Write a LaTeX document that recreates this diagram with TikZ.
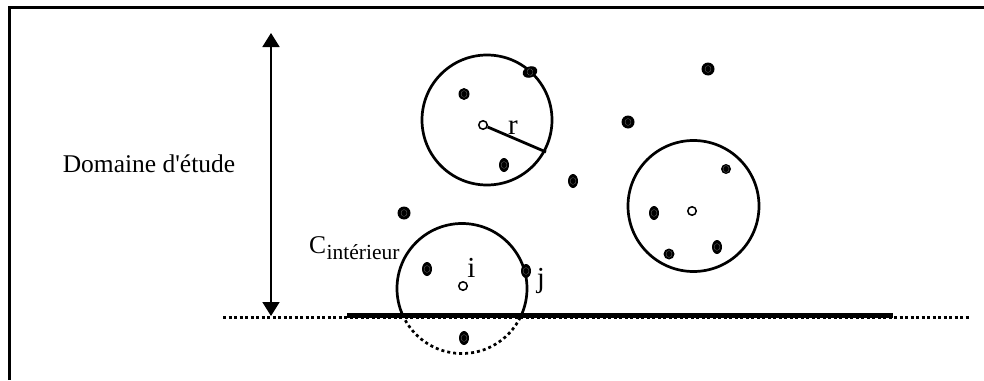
\documentclass[tikz,border=0pt]{standalone}
\usepackage{fontspec}
\setmainfont{Liberation Serif}
\usetikzlibrary{arrows.meta,shapes.geometric}
\begin{document}
\begin{tikzpicture}[x=1pt,y=-1pt,
  circline/.style={line width=2.7pt},
  pt/.style={ellipse,fill=black,inner sep=0pt,minimum width=12pt,minimum height=12pt,
    path picture={\draw[black!55,line width=0.3pt] (path picture bounding box.center) ellipse (3pt and 3.4pt);}},
  ptv/.style={pt,minimum width=10pt,minimum height=14pt},
  ptc/.style={circle,draw=black,fill=white,line width=1.5pt,inner sep=0pt,minimum size=8.5pt},
  lbl/.style={inner sep=0pt,font=\fontsize{25.5}{30}\selectfont},
  biglbl/.style={inner sep=0pt,font=\fontsize{29}{34}\selectfont},
  dotline/.style={line width=3pt,dash pattern=on 3pt off 2.5pt},
]
\useasboundingbox (0,0) rectangle (984,380);
% frame
\draw[line width=3pt] (9.5,380) -- (9.5,7.5) -- (984,7.5);
% boundary lines
\coordinate (dl1) at (223,317);
\coordinate (dl2) at (970,317);
\coordinate (tl1) at (347,315.5);
\coordinate (tl2) at (893,315.5);
\draw[dotline] (dl1) -- (dl2);
\draw[line width=4.5pt] (tl1) -- (tl2);
% double arrow
\coordinate (a1) at (271,33);
\coordinate (a2) at (271,316);
\draw[line width=1.8pt,{Triangle[length=14pt,width=17pt]}-{Triangle[length=14pt,width=17pt]}] (a1) -- (a2);
\node[lbl,anchor=base] (dom) at (149,172) {Domaine d\textquotesingle étude};
% top circle
\node[circle,draw,circline,minimum size=130pt,inner sep=0pt] (c1) at (487,120) {};
\coordinate (rend) at (546,152);
\node[ptc] (o1) at (483,125) {};
\draw[line width=2.8pt] (o1) -- (rend);
\node[biglbl,anchor=base] (r) at (513,134) {r};
% right circle
\node[circle,draw,circline,minimum size=131pt,inner sep=0pt] (c2) at (693.5,206) {};
\node[ptc] (o2) at (692,211) {};
% bottom circle
\coordinate (c3) at (462,288.5);
\begin{scope}
  \clip (300,200) rectangle (600,316);
  \draw[circline] (c3) circle (65);
\end{scope}
\begin{scope}
  \clip (300,316) rectangle (600,370);
  \draw[circline,dash pattern=on 3pt off 3pt] (c3) circle (65);
\end{scope}
\node[ptc] (o3) at (463,286) {};
\node[biglbl,anchor=base] (i) at (471.5,277) {i};
\node[biglbl,anchor=base] (j) at (541,287) {j};
\node[lbl,anchor=base west] (C) at (309,253) {C};
\node[inner sep=0pt,anchor=base west,font=\fontsize{21.5}{25}\selectfont] (Cs) at (C.base east) [yshift=-6pt] {intérieur};
% points
\node[pt,minimum width=11pt,minimum height=12pt] (p1) at (464,94) {};
\node[pt,minimum width=15pt,minimum height=11pt,rotate=20] (p2) at (530,72) {};
\node[ptv] (p3) at (504,165) {};
\node[ptv] (p4) at (573,181) {};
\node[pt,minimum size=13pt] (p5) at (628,122) {};
\node[pt,minimum size=13pt] (p6) at (708,69) {};
\node[pt,minimum size=10pt] (p7) at (726,169) {};
\node[ptv] (p8) at (654,213) {};
\node[pt,minimum size=11pt] (p9) at (669,254) {};
\node[ptv] (p10) at (717,247) {};
\node[pt,minimum size=13pt] (p11) at (404,213) {};
\node[ptv] (p12) at (427,269) {};
\node[ptv] (p13) at (526,271) {};
\node[ptv] (p14) at (464,338) {};
\end{tikzpicture}
\end{document}
